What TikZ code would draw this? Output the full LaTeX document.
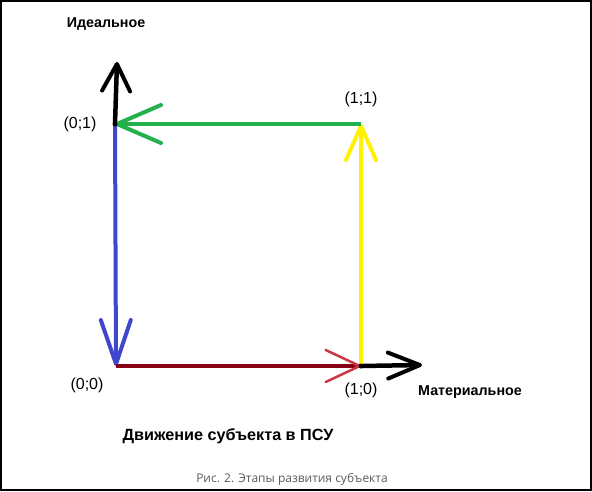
\documentclass[tikz,border=0pt]{standalone}
\usepackage{fontspec}
\setmainfont{Liberation Sans}
\newfontfamily\capfont{Open Sans}
\usetikzlibrary{arrows.meta}
\definecolor{pgreen}{RGB}{34,177,76}
\definecolor{pblue}{RGB}{63,72,204}
\definecolor{pyellow}{RGB}{255,242,0}
\definecolor{pdred}{RGB}{136,0,21}
\definecolor{pred}{RGB}{205,55,65}
\definecolor{capgray}{RGB}{90,90,90}
\begin{document}
\begin{tikzpicture}[x=1pt,y=-1pt,
  seg/.style={line width=4pt},
  axisline/.style={seg, line width=4.5pt, black, -{Straight Barb[length=27pt,width=28pt,line width=4pt,round]}},
  xaxisline/.style={seg, line width=4.5pt, black, -{Straight Barb[length=32pt,width=26pt,line width=4pt,round]}},
  gline/.style={seg, pgreen, -{Straight Barb[length=44pt,width=38pt,line width=4pt,round]}},
  bline/.style={seg, pblue, -{Straight Barb[length=44pt,width=30pt,line width=4pt,round]}},
  rline/.style={seg, pdred, -{Straight Barb[length=34pt,width=32pt,line width=2.5pt,round,color=pred]}},
  yline/.style={seg, pyellow, -{Straight Barb[length=34pt,width=30pt,line width=4pt,round]}},
  coord/.style={font=\fontsize{16}{19}\selectfont, inner sep=0pt},
  axlab/.style={font=\bfseries\fontsize{14.3}{17}\selectfont, inner sep=0pt},
]
\useasboundingbox (0,0) rectangle (592,491);
\fill[white] (0,0) rectangle (592,491);
\draw[line width=2pt] (1,1) rectangle (591,490);
\coordinate (P00) at (116,366);
\coordinate (P01) at (115,124);
\coordinate (P11) at (361,124);
\coordinate (P10) at (361,366);
\coordinate (Ytop) at (117,62);
\coordinate (Xend) at (422,365);
\draw[axisline] (P01) -- (Ytop);
\draw[xaxisline] (P10) -- (Xend);
\draw[bline] (P01) -- (P00);
\draw[yline] (P10) -- (P11);
\draw[gline] (P11) -- (P01);
\draw[rline] (P00) -- (P10);
\fill[black] (P01) circle (2.5pt);
\fill[black] (P10) circle (2.5pt);
\node[coord] (l01) at (80,124) {(0;1)};
\node[coord] (l11) at (361,99) {(1;1)};
\node[coord] (l00) at (87,385) {(0;0)};
\node[coord] (l10) at (361,390) {(1;0)};
\node[axlab] (ly) at (106,24) {Идеальное};
\node[axlab] (lx) at (470,392) {Материальное};
\node[font=\bfseries\fontsize{16.2}{19}\selectfont, inner sep=0pt] (title) at (228,436) {Движение субъекта в ПСУ};
\node[font=\capfont\fontsize{12}{14}\selectfont, text=capgray, inner sep=0pt] (cap) at (292,479) {Рис. 2. Этапы развития субъекта};
\end{tikzpicture}
\end{document}
